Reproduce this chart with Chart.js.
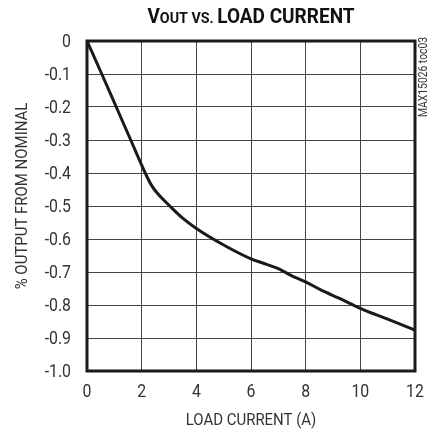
<!DOCTYPE html>
<html><head><meta charset="utf-8">
<script src="https://cdn.jsdelivr.net/npm/chart.js@4"></script>
<style>html,body{margin:0;padding:0;background:#fff}#wrap{width:435px;height:432px;position:relative}</style>
</head><body><div id="wrap"><canvas id="c" width="435" height="432"></canvas></div>
<script>
const loadCurrent = [0, 0.54, 1.07, 1.6, 2.13, 2.35, 2.56, 3.03, 3.5, 4, 5, 6, 6.4, 7, 7.46, 8, 8.57, 9.24, 10, 11, 12];
const pctOutput  = [0, -0.1, -0.2, -0.3, -0.4, -0.436, -0.46, -0.5, -0.537, -0.568, -0.618, -0.66, -0.672, -0.69, -0.71, -0.73, -0.755, -0.78, -0.81, -0.843, -0.876];
const xTickLabels = ["0","2","4","6","8","10","12"];
const yTickLabels = ["0","-0.1","-0.2","-0.3","-0.4","-0.5","-0.6","-0.7","-0.8","-0.9","-1.0"];
const titleParts = [["V",20],["OUT",15],[" VS. ",15],["LOAD CURRENT",20]];
const xTitle = "LOAD CURRENT (A)";
const yTitle = "% OUTPUT FROM NOMINAL";
const sideNote = "MAX15026 toc03";

const FONT = "Roboto, 'Liberation Sans', Arial, sans-serif";
const NARROW = 0.88;

function narrowText(ctx, text, x, y, size, align, weight, sx){
  sx = sx || NARROW;
  ctx.save();
  ctx.font = (weight ? weight+' ' : '')+size+'px '+FONT;
  const w = ctx.measureText(text).width*sx;
  let x0 = x;
  if(align==='center') x0 = x - w/2; else if(align==='right') x0 = x - w;
  ctx.translate(x0, y); ctx.scale(sx,1);
  ctx.textAlign='left';
  ctx.fillText(text, 0, 0);
  ctx.restore();
  return w;
}

const deco = {
  id:'deco',
  afterDraw(chart){
    const ctx = chart.ctx, a = chart.chartArea;
    const xs = chart.scales.x, ys = chart.scales.y;
    ctx.save();
    ctx.strokeStyle = '#1a1a1a'; ctx.lineWidth = 3;
    ctx.strokeRect(a.left, a.top, a.right-a.left, a.bottom-a.top);
    // tick labels
    ctx.fillStyle = '#333'; ctx.textBaseline='middle';
    yTickLabels.forEach(t=>{ narrowText(ctx, t, a.left-16, ys.getPixelForValue(Number(t))+1, 18, 'right'); });
    xTickLabels.forEach(t=>{ narrowText(ctx, t, xs.getPixelForValue(Number(t)), 392, 18, 'center'); });
    // axis titles
    narrowText(ctx, xTitle, (a.left+a.right)/2, 421, 17, 'center');
    ctx.save(); ctx.translate(23, 196); ctx.rotate(-Math.PI/2);
    narrowText(ctx, yTitle, 0, 0, 17, 'center'); ctx.restore();
    // side note
    ctx.save(); ctx.translate(424, 77); ctx.rotate(-Math.PI/2);
    narrowText(ctx, sideNote, 0, 0, 12, 'center', null, 0.86); ctx.restore();
    // title
    ctx.fillStyle = '#111'; ctx.textBaseline = 'alphabetic';
    const sx = 0.95;
    let w = 0;
    titleParts.forEach(p=>{ctx.font = 'bold '+p[1]+'px '+FONT; w += ctx.measureText(p[0]).width*sx;});
    let x = 251 - w/2;
    titleParts.forEach(p=>{ x += narrowText(ctx, p[0], x, 23, p[1], 'left', 'bold', sx); });
    ctx.restore();
  }
};

new Chart(document.getElementById('c'), {
  type:'line',
  data:{datasets:[{
    data: loadCurrent.map((v,i)=>({x:v,y:pctOutput[i]})),
    borderColor:'#1a1a1a', borderWidth:3, pointRadius:0, cubicInterpolationMode:'monotone', fill:false,
    borderCapStyle:'round', borderJoinStyle:'round'
  }]},
  options:{
    responsive:false, animation:false, devicePixelRatio:1,
    layout:{padding:{left:0,right:20,top:41,bottom:0}},
    plugins:{legend:{display:false},tooltip:{enabled:false},title:{display:false}},
    scales:{
      x:{type:'linear', min:0, max:12,
        afterFit(s){s.height=61;},
        afterBuildTicks(s){s.ticks = xTickLabels.map(t=>({value:Number(t)}));},
        ticks:{display:false},
        grid:{color:'#444', lineWidth:1, drawTicks:false},
        border:{display:false}
      },
      y:{type:'linear', min:-1, max:0,
        afterFit(s){s.width=87;},
        afterBuildTicks(s){s.ticks = yTickLabels.map(t=>({value:Number(t)}));},
        ticks:{display:false},
        grid:{color:'#444', lineWidth:1, drawTicks:false},
        border:{display:false}
      }
    }
  },
  plugins:[deco]
});
</script></body></html>
